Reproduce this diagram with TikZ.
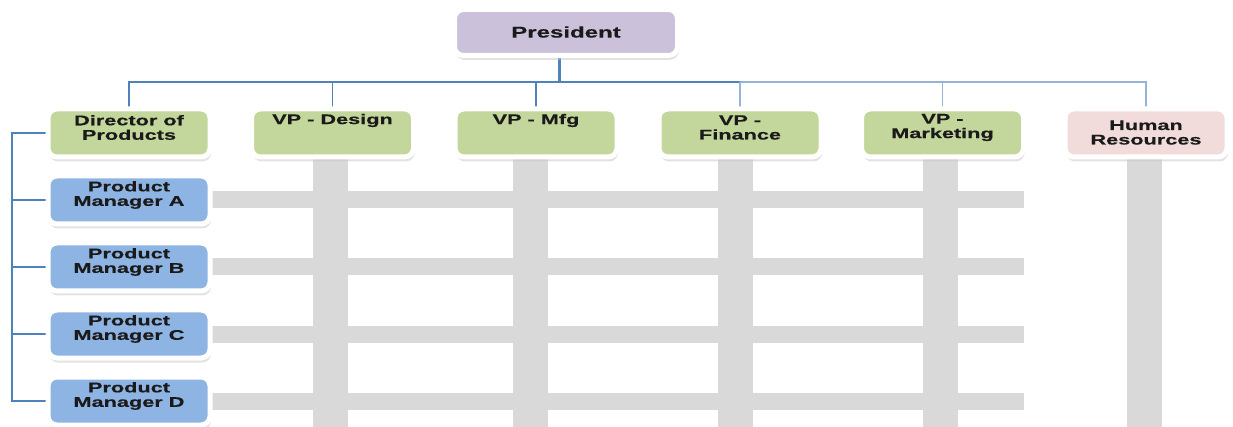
\documentclass[tikz,border=0pt]{standalone}
\usepackage{fontspec}
\setmainfont{Liberation Sans}
\newfontfamily\boxfont{Liberation Sans Bold}[FakeStretch=1.55, FakeBold=0.4]
\usetikzlibrary{shadows}
\definecolor{presfill}{HTML}{CCC1DA}
\definecolor{greenfill}{HTML}{C3D69B}
\definecolor{bluefill}{HTML}{8EB4E3}
\definecolor{pinkfill}{HTML}{F2DCDB}
\definecolor{barcol}{HTML}{D9D9D9}
\definecolor{linecol}{HTML}{4F81BD}
\definecolor{lightline}{HTML}{95B3D7}
\definecolor{txt}{HTML}{1A1A1A}
\begin{document}
\begin{tikzpicture}[x=1pt,y=-1pt,
  box/.style={draw=white, line width=5pt, rounded corners=9pt,
    minimum width=162pt, minimum height=48pt, inner sep=0pt,
    drop shadow={shadow xshift=1.2pt, shadow yshift=-4.5pt, fill=black!22}},
  presbox/.style={box, fill=presfill, minimum width=223pt, minimum height=46pt},
  greenbox/.style={box, fill=greenfill},
  bluebox/.style={box, fill=bluefill},
  pinkbox/.style={box, fill=pinkfill},
  lbl/.style={font=\boxfont\fontsize{14}{14.5}\selectfont, align=center, text=txt, inner sep=0pt},
  biglbl/.style={lbl, font=\boxfont\fontsize{15.5}{16}\selectfont},
  conn/.style={draw=linecol, line width=1.4pt},
  lconn/.style={draw=lightline, line width=1.6pt},
  stemline/.style={draw=linecol, line width=3pt},
  vbar/.style={draw=barcol, line width=35pt},
  hbar/.style={draw=barcol, line width=17pt}]
\useasboundingbox (0,0) rectangle (1233,427);
\fill[white] (0,0) rectangle (1233,427);

% reference coordinates
\coordinate (bus) at (559,82);
\coordinate (lx) at (12,0);
\coordinate (hend) at (1024,0);
\coordinate (bottom) at (0,430);

\path
  (566,32.5) coordinate (cpres)
  (129,133) coordinate (cdir)
  (332.5,133) coordinate (cvpd)
  (536,133) coordinate (cvpm)
  (740,133) coordinate (cvpf)
  (942.5,133) coordinate (cvpk)
  (1146,133) coordinate (chr)
  (129,200) coordinate (cpma)
  (129,267) coordinate (cpmb)
  (129,334) coordinate (cpmc)
  (129,401) coordinate (cpmd);

% gray matrix bars
\draw[hbar] (cpma) -- (cpma -| hend);
\draw[hbar] (cpmb) -- (cpmb -| hend);
\draw[hbar] (cpmc) -- (cpmc -| hend);
\draw[hbar] (cpmd) -- (cpmd -| hend);
\draw[vbar] ([xshift=-2pt]cvpd) -- ([xshift=-2pt]cvpd |- bottom);
\draw[vbar] ([xshift=-5.5pt]cvpm) -- ([xshift=-5.5pt]cvpm |- bottom);
\draw[vbar] ([xshift=-4.5pt]cvpf) -- ([xshift=-4.5pt]cvpf |- bottom);
\draw[vbar] ([xshift=-2pt]cvpk) -- ([xshift=-2pt]cvpk |- bottom);
\draw[vbar] ([xshift=-1.5pt]chr) -- ([xshift=-1.5pt]chr |- bottom);

% connectors
\draw[stemline] (bus |- cpres) -- (bus);
\draw[conn] (cdir) -- (cdir |- bus) -- (cvpf |- bus);
\draw[lconn] (cvpf |- bus) -- (chr |- bus) -- (chr);
\draw[conn] (cvpd |- bus) -- (cvpd);
\draw[conn] (cvpm |- bus) -- (cvpm);
\draw[lconn] (cvpf |- bus) -- (cvpf);
\draw[lconn] (cvpk |- bus) -- (cvpk);
\draw[conn] (cdir) -- (cdir -| lx) -- (cpmd -| lx) -- (cpmd);
\draw[conn] (cpma -| lx) -- (cpma);
\draw[conn] (cpmb -| lx) -- (cpmb);
\draw[conn] (cpmc -| lx) -- (cpmc);

% boxes
\node[presbox] (pres) at (cpres) {};
\node[greenbox] (dir) at (cdir) {};
\node[greenbox] (vpd) at (cvpd) {};
\node[greenbox] (vpm) at (cvpm) {};
\node[greenbox] (vpf) at (cvpf) {};
\node[greenbox] (vpk) at (cvpk) {};
\node[pinkbox] (hr) at (chr) {};
\node[bluebox] (pma) at (cpma) {};
\node[bluebox] (pmb) at (cpmb) {};
\node[bluebox] (pmc) at (cpmc) {};
\node[bluebox] (pmd) at (cpmd) {};

% labels
\node[biglbl] (tpres) at (566,32) {President};
\node[lbl] (tdir) at (129,127.5) {Director of\\Products};
\node[lbl] (tvpd) at (332.5,120.5) {VP - Design};
\node[lbl] (tvpm) at (536,120.5) {VP - Mfg};
\node[lbl] (tvpf) at (740,127.5) {VP -\\Finance};
\node[lbl] (tvpk) at (942.5,127.5) {VP -\\Marketing};
\node[lbl] (thr) at (1146,132.5) {Human\\Resources};
\node[lbl] (tpma) at (129,195) {Product\\Manager A};
\node[lbl] (tpmb) at (129,262) {Product\\Manager B};
\node[lbl] (tpmc) at (129,329) {Product\\Manager C};
\node[lbl] (tpmd) at (129,396) {Product\\Manager D};
\end{tikzpicture}
\end{document}
